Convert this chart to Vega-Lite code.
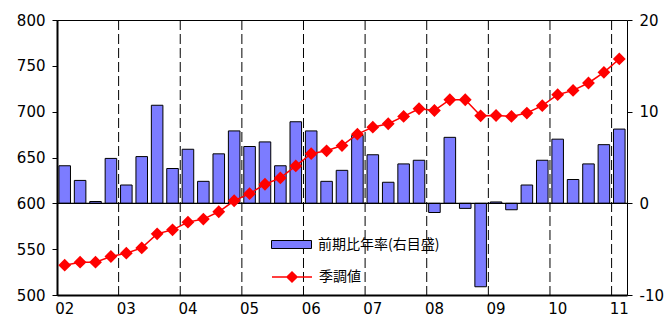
{
  "$schema": "https://vega.github.io/schema/vega-lite/v6.json",
  "autosize": {"type": "none"},
  "width": 570,
  "height": 275,
  "padding": {"left": 57, "top": 20, "right": 40, "bottom": 27},
  "background": "white",
  "config": {
    "view": {"stroke": "black", "strokeWidth": 1},
    "font": "DejaVu Sans"
  },
  "data": {"values": [
    {"q": "2002Q1", "yoy": 4.1, "level": 532.5},
    {"q": "2002Q2", "yoy": 2.5, "level": 535.8},
    {"q": "2002Q3", "yoy": 0.2, "level": 535.8},
    {"q": "2002Q4", "yoy": 4.9, "level": 542.0},
    {"q": "2003Q1", "yoy": 2.0, "level": 545.6},
    {"q": "2003Q2", "yoy": 5.1, "level": 551.4},
    {"q": "2003Q3", "yoy": 10.7, "level": 566.7},
    {"q": "2003Q4", "yoy": 3.8, "level": 571.1},
    {"q": "2004Q1", "yoy": 5.9, "level": 579.5},
    {"q": "2004Q2", "yoy": 2.4, "level": 582.8},
    {"q": "2004Q3", "yoy": 5.4, "level": 590.8},
    {"q": "2004Q4", "yoy": 7.9, "level": 602.8},
    {"q": "2005Q1", "yoy": 6.2, "level": 610.5},
    {"q": "2005Q2", "yoy": 6.7, "level": 620.8},
    {"q": "2005Q3", "yoy": 4.1, "level": 627.7},
    {"q": "2005Q4", "yoy": 8.9, "level": 640.8},
    {"q": "2006Q1", "yoy": 7.9, "level": 654.2},
    {"q": "2006Q2", "yoy": 2.4, "level": 657.3},
    {"q": "2006Q3", "yoy": 3.6, "level": 663.0},
    {"q": "2006Q4", "yoy": 7.4, "level": 675.5},
    {"q": "2007Q1", "yoy": 5.3, "level": 683.1},
    {"q": "2007Q2", "yoy": 2.3, "level": 686.8},
    {"q": "2007Q3", "yoy": 4.3, "level": 694.8},
    {"q": "2007Q4", "yoy": 4.7, "level": 703.2},
    {"q": "2008Q1", "yoy": -1.0, "level": 701.3},
    {"q": "2008Q2", "yoy": 7.2, "level": 713.0},
    {"q": "2008Q3", "yoy": -0.55, "level": 713.0},
    {"q": "2008Q4", "yoy": -9.1, "level": 695.5},
    {"q": "2009Q1", "yoy": 0.15, "level": 695.8},
    {"q": "2009Q2", "yoy": -0.7, "level": 694.8},
    {"q": "2009Q3", "yoy": 2.0, "level": 698.5},
    {"q": "2009Q4", "yoy": 4.7, "level": 706.5},
    {"q": "2010Q1", "yoy": 7.0, "level": 718.5},
    {"q": "2010Q2", "yoy": 2.6, "level": 723.2},
    {"q": "2010Q3", "yoy": 4.3, "level": 731.3},
    {"q": "2010Q4", "yoy": 6.4, "level": 742.9},
    {"q": "2011Q1", "yoy": 8.1, "level": 757.5}
  ]},
  "layer": [
    {
      "transform": [{"filter": "indexof(datum.q, 'Q1') >= 0 && datum.q != '2002Q1'"}],
      "mark": {"type": "rule", "color": "black", "strokeWidth": 1, "strokeDash": [10, 4]},
      "encoding": {
        "x": {
          "field": "q", "type": "ordinal", "bandPosition": -0.1667,
          "scale": {"paddingInner": 0.25, "paddingOuter": 0.125},
          "axis": {
            "title": null,
            "values": ["2002Q1","2003Q1","2004Q1","2005Q1","2006Q1","2007Q1","2008Q1","2009Q1","2010Q1","2011Q1"],
            "labelExpr": "slice(datum.value, 2, 4)",
            "labelAngle": 0,
            "labelFont": "DejaVu Sans",
            "labelFontSize": 15,
            "labelColor": "black",
            "labelPadding": 6,
            "ticks": false,
            "grid": false,
            "domainColor": "black",
            "domainWidth": 2
          }
        }
      }
    },
    {
      "layer": [
        {
          "mark": {"type": "bar", "stroke": "black", "strokeWidth": 1},
          "encoding": {
            "x": {
              "field": "q", "type": "ordinal",
              "scale": {"paddingInner": 0.25, "paddingOuter": 0.125},
              "axis": {
                "title": null,
                "values": ["2002Q1","2003Q1","2004Q1","2005Q1","2006Q1","2007Q1","2008Q1","2009Q1","2010Q1","2011Q1"],
                "labelExpr": "slice(datum.value, 2, 4)",
                "labelAngle": 0,
                "labelFont": "DejaVu Sans",
                "labelFontSize": 15,
                "labelColor": "black",
                "labelPadding": 6,
                "ticks": false,
                "grid": false,
                "domainColor": "black",
                "domainWidth": 2
              }
            },
            "y": {
              "field": "yoy", "type": "quantitative",
              "scale": {"domain": [-10, 20], "nice": false, "zero": false},
              "axis": {
                "orient": "right", "title": null, "values": [-10, 0, 10, 20],
                "labelExpr": "datum.value < 0 ? '-' + abs(datum.value) : '' + datum.value",
                "grid": false, "domain": false,
                "tickSize": 5, "tickColor": "black",
                "labelFont": "DejaVu Sans", "labelFontSize": 15, "labelColor": "black",
                "labelPadding": 7
              }
            },
            "fill": {
              "datum": "前期比年率(右目盛)",
              "scale": {"range": ["#7c7cff"]},
              "legend": {
                "title": null, "orient": "none", "legendX": 214, "legendY": 204,
                "symbolType": "M-1,-0.2H1V0.2H-1Z", "symbolSize": 1600,
                "symbolStrokeColor": "black", "symbolStrokeWidth": 1,
                "labelFont": "Noto Sans CJK JP", "labelFontSize": 14, "labelColor": "black",
                "labelOffset": 6
              }
            }
          }
        },
        {
          "data": {"values": [{}]},
          "mark": {"type": "rule", "color": "black", "strokeWidth": 1.2},
          "encoding": {"y": {"datum": 0, "type": "quantitative"}}
        }
      ]
    },
    {
      "mark": {
        "type": "line", "strokeWidth": 1.5,
        "point": {"filled": true, "shape": "diamond", "size": 100, "fill": "#ff0000", "stroke": "#ff0000"}
      },
      "encoding": {
        "x": {
          "field": "q", "type": "ordinal",
          "scale": {"paddingInner": 0.25, "paddingOuter": 0.125},
          "axis": {
            "title": null,
            "values": ["2002Q1","2003Q1","2004Q1","2005Q1","2006Q1","2007Q1","2008Q1","2009Q1","2010Q1","2011Q1"],
            "labelExpr": "slice(datum.value, 2, 4)",
            "labelAngle": 0,
            "labelFont": "DejaVu Sans",
            "labelFontSize": 15,
            "labelColor": "black",
            "labelPadding": 6,
            "ticks": false,
            "grid": false,
            "domainColor": "black",
            "domainWidth": 2
          }
        },
        "y": {
          "field": "level", "type": "quantitative",
          "scale": {"domain": [500, 800], "nice": false, "zero": false},
          "axis": {
            "orient": "left", "title": null, "values": [500, 550, 600, 650, 700, 750, 800],
            "grid": false, "domainColor": "black", "domainWidth": 2,
            "tickSize": 5, "tickColor": "black",
            "labelFont": "DejaVu Sans", "labelFontSize": 15, "labelColor": "black",
            "labelPadding": 7
          }
        },
        "stroke": {
          "datum": "季調値",
          "scale": {"range": ["#ff0000"]},
          "legend": {
            "title": null, "orient": "none", "legendX": 214, "legendY": 236,
            "symbolType": "M-1,0H1M0,-0.25L0.25,0L0,0.25L-0.25,0Z", "symbolSize": 1600,
            "symbolFillColor": "#ff0000", "symbolStrokeWidth": 1.5,
            "labelFont": "Noto Sans CJK JP", "labelFontSize": 14, "labelColor": "black",
            "labelOffset": 6
          }
        }
      }
    }
  ],
  "resolve": {"scale": {"y": "independent", "fill": "independent", "stroke": "independent"}}
}
